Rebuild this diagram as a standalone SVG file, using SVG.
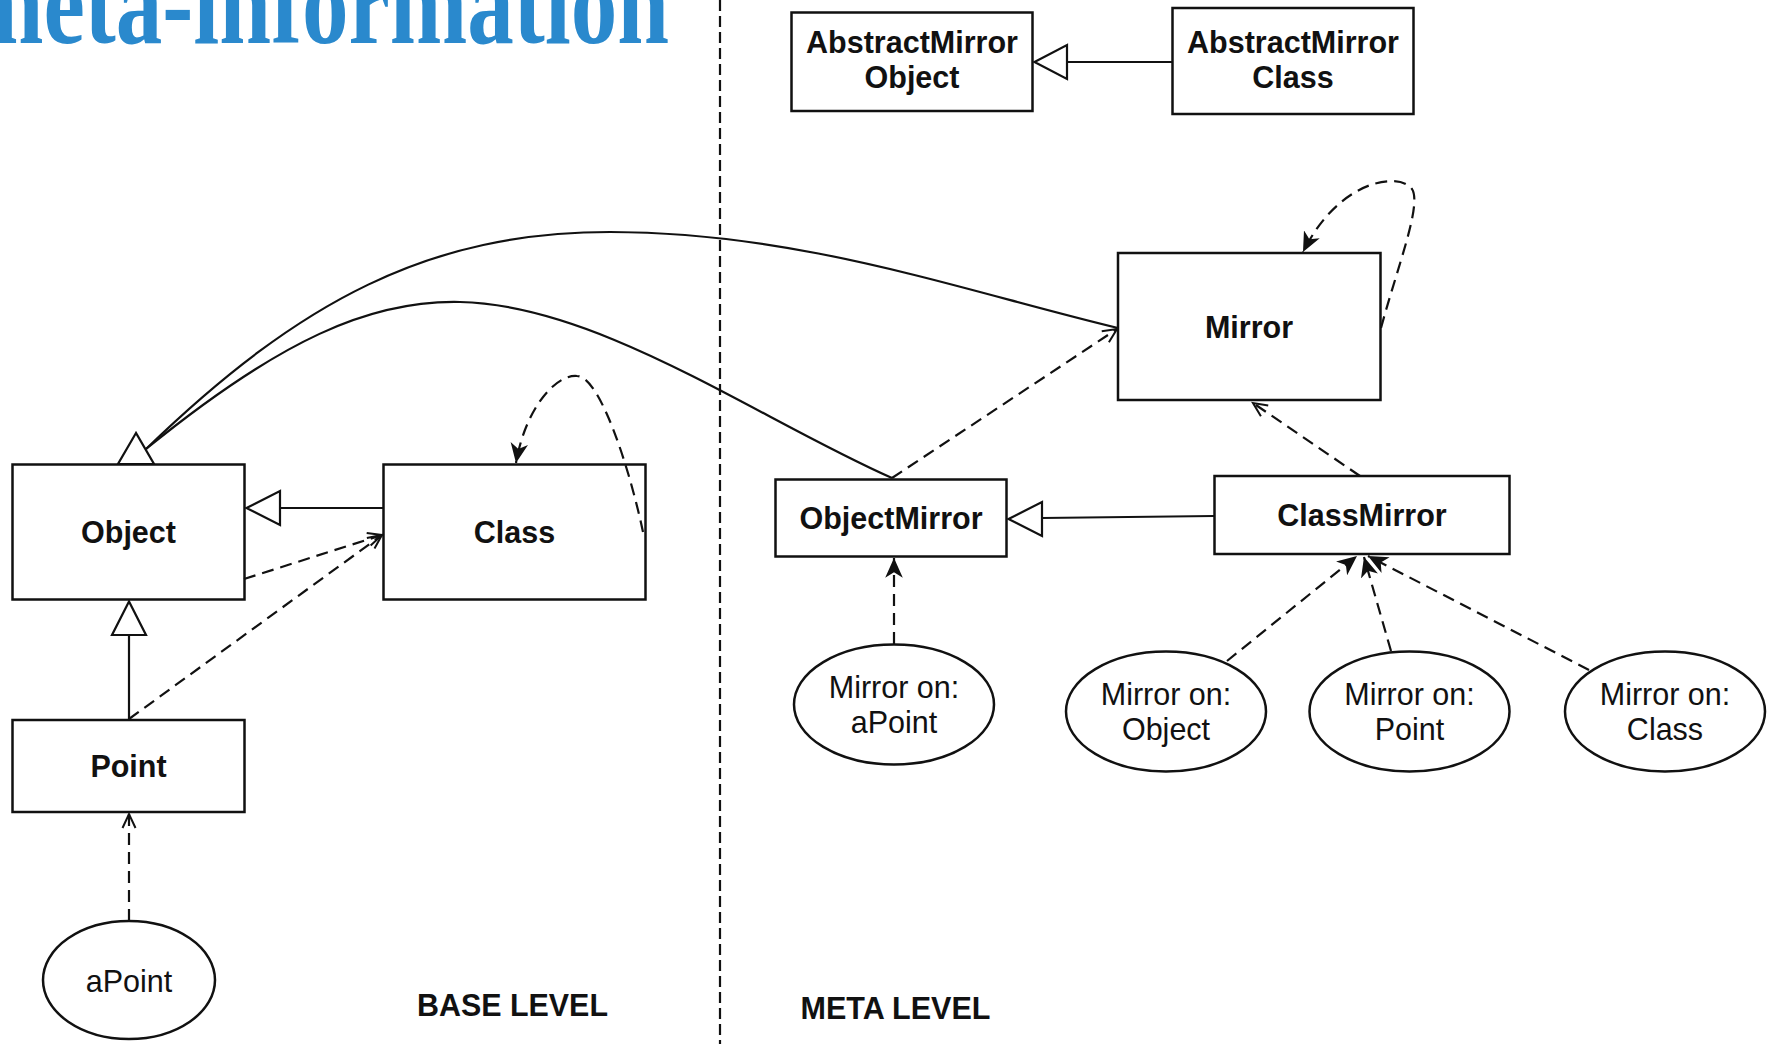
<svg xmlns="http://www.w3.org/2000/svg" width="1773" height="1044" viewBox="0 0 1773 1044">
<style>
  .box { fill: #fff; stroke: #111; stroke-width: 2.5; }
  .ell { fill: #fff; stroke: #111; stroke-width: 2.5; }
  .lbl { font-family: "Liberation Sans", Arial, sans-serif; font-weight: bold; font-size: 30.5px; fill: #111; text-anchor: middle; }
  .reg { font-family: "Liberation Sans", Arial, sans-serif; font-size: 30.5px; fill: #111; text-anchor: middle; }
  .solid { fill: none; stroke: #111; stroke-width: 2.2; }
  .dash { fill: none; stroke: #111; stroke-width: 2.2; stroke-dasharray: 12 7; }
  .tri { fill: #fff; stroke: #111; stroke-width: 2.2; stroke-linejoin: miter; }
  .sep { fill: none; stroke: #111; stroke-width: 2.2; stroke-dasharray: 11 5; }
</style>
<defs>
  <marker id="open" markerUnits="userSpaceOnUse" markerWidth="20" markerHeight="20" refX="15" refY="7" orient="auto" viewBox="0 0 20 14">
    <path d="M1,0.5 L15,7 L1,13.5" fill="none" stroke="#111" stroke-width="2"/>
  </marker>
  <marker id="stealth" markerUnits="userSpaceOnUse" markerWidth="22" markerHeight="18" refX="18" refY="8" orient="auto" viewBox="0 0 20 16">
    <path d="M0,0 L18,8 L0,16 L5,8 z" fill="#111"/>
  </marker>
</defs>

<!-- title -->
<text x="-34" y="43" font-family="'Liberation Serif', 'DejaVu Serif', serif" font-weight="bold" font-size="118" textLength="703" lengthAdjust="spacingAndGlyphs" fill="#2a89cd">meta-information</text>

<!-- separator -->
<line class="sep" x1="720" y1="0" x2="720" y2="1044"/>

<!-- nodes -->
<g id="abstractMirrorObject">
  <rect class="box" x="791.5" y="12.5" width="241" height="98.5"/>
  <text class="lbl" x="912" y="53">AbstractMirror</text>
  <text class="lbl" x="912" y="88">Object</text>
</g>
<g id="abstractMirrorClass">
  <rect class="box" x="1172.5" y="8" width="241" height="106"/>
  <text class="lbl" x="1293" y="53">AbstractMirror</text>
  <text class="lbl" x="1293" y="88">Class</text>
</g>
<g id="mirror">
  <rect class="box" x="1118" y="253" width="262.5" height="147"/>
  <text class="lbl" x="1249" y="337.5">Mirror</text>
</g>
<g id="objectMirror">
  <rect class="box" x="775.5" y="479.5" width="231" height="77"/>
  <text class="lbl" x="891" y="529">ObjectMirror</text>
</g>
<g id="classMirror">
  <rect class="box" x="1214.5" y="476" width="295" height="78"/>
  <text class="lbl" x="1362" y="526">ClassMirror</text>
</g>
<g id="object">
  <rect class="box" x="12.5" y="464.5" width="232" height="135"/>
  <text class="lbl" x="128.5" y="543">Object</text>
</g>
<g id="class">
  <rect class="box" x="383.5" y="464.5" width="262" height="135"/>
  <text class="lbl" x="514.5" y="543">Class</text>
</g>
<g id="point">
  <rect class="box" x="12.5" y="720" width="232" height="92"/>
  <text class="lbl" x="128.5" y="777">Point</text>
</g>
<g id="aPoint">
  <ellipse class="ell" cx="129" cy="980" rx="86" ry="59"/>
  <text class="reg" x="129" y="991.5">aPoint</text>
</g>
<g id="mirrorOnAPoint">
  <ellipse class="ell" cx="894" cy="704.5" rx="100" ry="60"/>
  <text class="reg" x="894" y="697.5">Mirror on:</text>
  <text class="reg" x="894" y="732.5">aPoint</text>
</g>
<g id="mirrorOnObject">
  <ellipse class="ell" cx="1166" cy="711.5" rx="100" ry="60"/>
  <text class="reg" x="1166" y="704.5">Mirror on:</text>
  <text class="reg" x="1166" y="739.5">Object</text>
</g>
<g id="mirrorOnPoint">
  <ellipse class="ell" cx="1409.5" cy="711.5" rx="100" ry="60"/>
  <text class="reg" x="1409.5" y="704.5">Mirror on:</text>
  <text class="reg" x="1409.5" y="739.5">Point</text>
</g>
<g id="mirrorOnClass">
  <ellipse class="ell" cx="1665" cy="711.5" rx="100" ry="60"/>
  <text class="reg" x="1665" y="704.5">Mirror on:</text>
  <text class="reg" x="1665" y="739.5">Class</text>
</g>

<!-- connectors -->
<g id="connectors">
  <!-- AbstractMirrorClass -> AbstractMirrorObject -->
  <line class="solid" x1="1172" y1="62" x2="1067" y2="62"/>
  <polygon class="tri" points="1034.5,62 1067,45 1067,79"/>
  <!-- ClassMirror -> ObjectMirror -->
  <line class="solid" x1="1214" y1="516" x2="1042" y2="518"/>
  <polygon class="tri" points="1008.5,519 1042,502 1042,536"/>
  <!-- Class -> Object -->
  <line class="solid" x1="383" y1="508" x2="280" y2="508"/>
  <polygon class="tri" points="246.5,508 280,491 280,525"/>
  <!-- Point -> Object -->
  <line class="solid" x1="129" y1="720" x2="129" y2="635"/>
  <polygon class="tri" points="129,601.5 112,635 146,635"/>
  <!-- Mirror -> Object (curve) -->
  <path class="solid" d="M1118,328 C960,290 800,232 610,232 C430,232 300,300 146,449"/>
  <!-- ObjectMirror -> Object (curve) -->
  <path class="solid" d="M892,478 C760,420 600,305 460,302 C370,300 280,340 146,449"/>
  <polygon class="tri" points="136,433 118,464 154,464"/>
  <!-- dependencies -->
  <line class="dash" x1="244" y1="579" x2="382" y2="535" marker-end="url(#open)"/>
  <line class="dash" x1="129" y1="719" x2="382" y2="535" marker-end="url(#open)"/>
  <line class="dash" x1="129" y1="921" x2="129" y2="814" marker-end="url(#open)"/>
  <line class="dash" x1="892" y1="478" x2="1117" y2="329" marker-end="url(#open)"/>
  <line class="dash" x1="1360" y1="476" x2="1253" y2="403" marker-end="url(#open)"/>
  <!-- self loops -->
  <path class="dash" d="M643,532 C630,470 600,376 577,376 C555,374 525,410 516,463" marker-end="url(#stealth)"/>
  <path class="dash" d="M1381,328 C1398,265 1422,205 1412,189 C1400,172 1340,178 1303,252" marker-end="url(#stealth)"/>
  <!-- instance arrows -->
  <line class="dash" x1="894" y1="644" x2="894" y2="558" marker-end="url(#stealth)"/>
  <line class="dash" x1="1227" y1="661" x2="1357" y2="556" marker-end="url(#stealth)"/>
  <line class="dash" x1="1391" y1="651" x2="1364" y2="557" marker-end="url(#stealth)"/>
  <line class="dash" x1="1589" y1="670" x2="1368" y2="556" marker-end="url(#stealth)"/>
</g>

<!-- level labels -->
<text class="lbl" x="512.5" y="1016" font-size="30" textLength="191" lengthAdjust="spacingAndGlyphs">BASE LEVEL</text>
<text class="lbl" x="895.5" y="1019" font-size="30" textLength="190" lengthAdjust="spacingAndGlyphs">META LEVEL</text>
</svg>
